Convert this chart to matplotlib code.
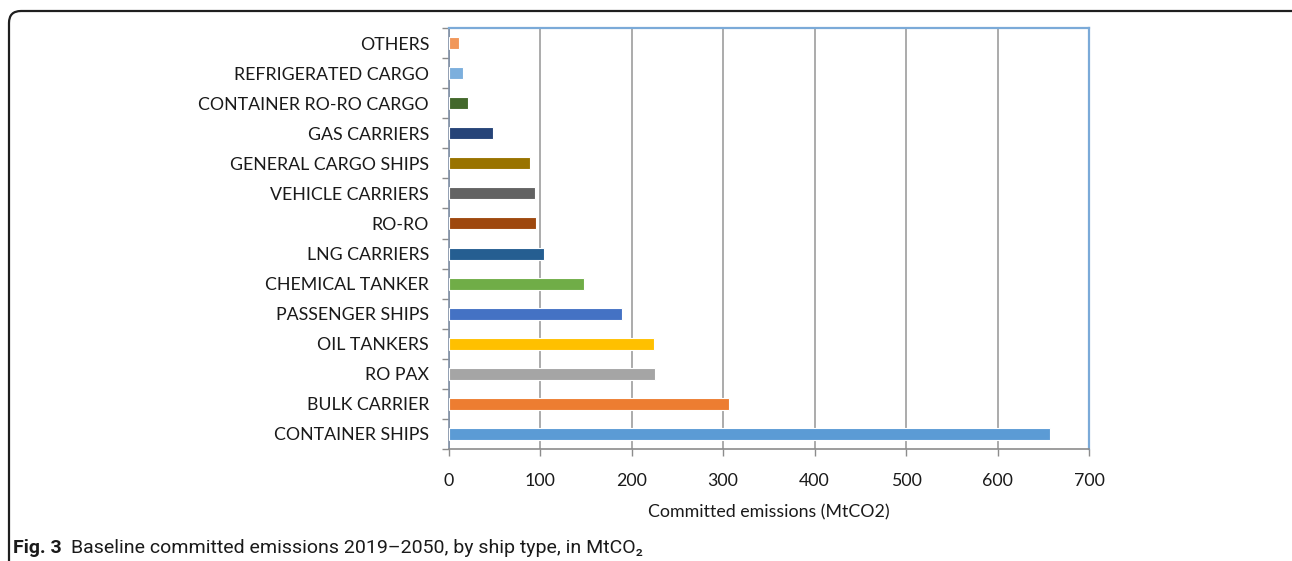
import matplotlib.pyplot as plt
from matplotlib.patches import FancyBboxPatch

# committed emissions per ship type, MtCO2 (bottom to top)
ship_types = ['CONTAINER SHIPS', 'BULK CARRIER', 'RO PAX', 'OIL TANKERS',
              'PASSENGER SHIPS', 'CHEMICAL TANKER', 'LNG CARRIERS', 'RO-RO',
              'VEHICLE CARRIERS', 'GENERAL CARGO SHIPS', 'GAS CARRIERS',
              'CONTAINER RO-RO CARGO', 'REFRIGERATED CARGO', 'OTHERS']
emissions = [657, 306, 226, 225, 189, 148, 104, 96, 94, 89, 49, 21, 16, 11]
bar_colors = ['#5B9BD5', '#ED7D31', '#A5A5A5', '#FFC000', '#4472C4', '#70AD47',
              '#255E91', '#9E480E', '#636363', '#997300', '#264478', '#43682B',
              '#7CAFDD', '#F1975A']
x_ticks = [0, 100, 200, 300, 400, 500, 600, 700]

plt.rcParams['font.family'] = ['Lato', 'DejaVu Sans']

fig = plt.figure(figsize=(12.92, 5.61), dpi=100)
ax = fig.add_axes([448.5 / 1292, 1 - 449 / 561, 640.8 / 1292, 421 / 561])

pos = list(range(len(ship_types)))
ax.barh(pos, emissions, height=0.4, color=bar_colors,
        edgecolor='white', linewidth=0.8, zorder=3)

ax.set_xlim(0, 700)
ax.set_ylim(-0.5, len(ship_types) - 0.5)
ax.set_xticks(x_ticks)
ax.set_yticks(pos)
ax.set_yticklabels(ship_types)
ax.set_yticks([p - 0.5 for p in pos] + [len(pos) - 0.5], minor=True)

ax.grid(axis='x', color='#ABABAB', linewidth=1.4, zorder=0)
ax.tick_params(axis='y', which='major', length=0, pad=14, labelsize=12.8,
               labelcolor='#1a1a1a')
ax.tick_params(axis='y', which='minor', length=5, width=1, color='#8C8C8C',
               direction='out')
ax.tick_params(axis='x', length=5, width=1, color='#8C8C8C', direction='out',
               pad=12, labelsize=12.8, labelcolor='#1a1a1a')

ax.spines['left'].set_color('#7F8FA6')
ax.spines['bottom'].set_color('#8C8C8C')
for side in ['left', 'bottom']:
    ax.spines[side].set_linewidth(1.2)
for side in ['top', 'right']:
    ax.spines[side].set_color('#7BAAD8')
    ax.spines[side].set_linewidth(1.6)

ax.set_xlabel('Committed emissions (MtCO2)', fontsize=12.8, color='#1a1a1a',
              labelpad=11)

# rounded frame around the figure panel
frame = FancyBboxPatch((0.09, -0.3), 13.0, 5.80,
                       boxstyle='round,pad=0,rounding_size=0.12',
                       transform=fig.dpi_scale_trans, facecolor='none',
                       edgecolor='#1f1f1f', linewidth=1.6, clip_on=False)
fig.patches.append(frame)

cap_font = ['Roboto', 'DejaVu Sans']
fig.text(13 / 1292, 1 - 548 / 561, 'Fig. 3', fontsize=14.0, fontweight='bold',
         family=cap_font, va='center', color='#1a1a1a')
fig.text(71 / 1292, 1 - 548 / 561,
         'Baseline committed emissions 2019\u20132050, by ship type, in MtCO\u2082',
         fontsize=14.0, family=cap_font, va='center', color='#1a1a1a')

fig.savefig('out.png', dpi=100)
